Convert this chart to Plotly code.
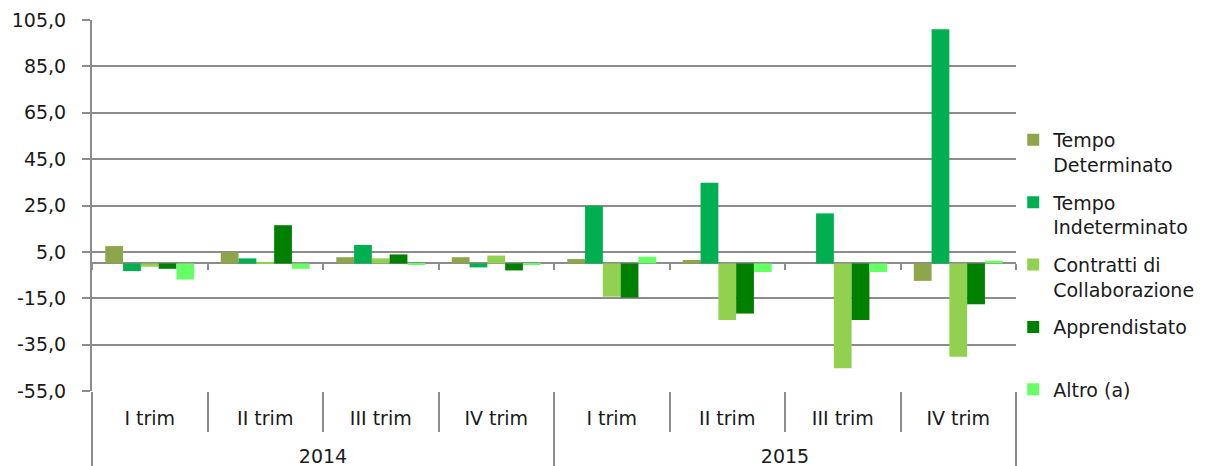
import plotly.graph_objects as go

years = ["2014"] * 4 + ["2015"] * 4
trims = ["I trim", "II trim", "III trim", "IV trim"] * 2

series_names = [
    "Tempo<br>Determinato",
    "Tempo<br>Indeterminato",
    "Contratti di<br>Collaborazione",
    "Apprendistato<br> ",
    "Altro (a)<br> ",
]
tempo_determinato = [7.5, 4.9, 2.7, 2.7, 1.9, 1.5, 0.0, -7.5]
tempo_indeterminato = [-3.3, 2.2, 8.0, -1.7, 24.9, 34.8, 21.6, 101.0]
contratti_collab = [-1.4, 0.7, 2.2, 3.4, -14.3, -24.4, -45.2, -40.2]
apprendistato = [-2.3, 16.5, 3.9, -3.0, -14.7, -21.6, -24.4, -17.6]
altro = [-6.9, -2.3, -0.4, -0.5, 2.9, -3.7, -3.7, 1.2]

series_values = [tempo_determinato, tempo_indeterminato, contratti_collab,
                 apprendistato, altro]
colors = ["#8DA64B", "#00B050", "#92D050", "#008000", "#66FF66"]

y_min, y_max, y_step = -55, 105, 20
y_ticks = list(range(y_min, y_max + 1, y_step))
y_ticktext = [f"{v:.1f}".replace(".", ",") for v in y_ticks]

FONT = "DejaVu Sans"
GRID = "#8c8c8c"
TXT = "#1a1a1a"

# inner labels get an empty second line to push the year row down
trim_labels = [t + "<br><span style='font-size:30px'>\u00a0</span>" for t in trims]

fig = go.Figure()
for name, vals, col in zip(series_names, series_values, colors):
    fig.add_trace(go.Bar(
        x=[years, trim_labels], y=vals, name=name, marker_color=col,
        marker_line_width=0, legendgroup=name,
    ))

n_cat = len(trims)
bounds = [i - 0.5 for i in range(n_cat + 1)]
inner_bounds = bounds[1:-1]

fig.add_trace(go.Scatter(x=bounds, y=[None] * len(bounds), xaxis="x2",
                         showlegend=False, hoverinfo="skip", mode="markers"))
fig.add_trace(go.Scatter(x=bounds, y=[None] * len(bounds), xaxis="x3",
                         showlegend=False, hoverinfo="skip", mode="markers"))

zero_pos = (0 - y_min) / (y_max - y_min)

# the page body adds an 8px offset, so the figure is 8px smaller
fig.update_layout(
    width=1205, height=458,
    margin=dict(l=84, r=197, t=12, b=75, autoexpand=False),
    paper_bgcolor="white", plot_bgcolor="white",
    barmode="group", bargap=0.23, bargroupgap=0,
    font=dict(family=FONT, size=17, color=TXT),
    showlegend=True,
    legend=dict(
        x=0.997, xanchor="left", y=0.728, yanchor="top",
        font=dict(family=FONT, size=19, color=TXT),
        valign="top", tracegroupgap=10, itemwidth=30,
        bgcolor="rgba(0,0,0,0)",
    ),
    xaxis=dict(
        type="multicategory", showgrid=False, zeroline=False,
        showline=False, ticks="", showdividers=True,
        dividercolor=GRID, dividerwidth=2, automargin=False,
        ticklabelstandoff=14,
        tickfont=dict(family=FONT, size=19, color=TXT),
        range=[bounds[0], bounds[-1]],
    ),
    xaxis2=dict(
        overlaying="x", anchor="y", side="bottom",
        range=[bounds[0], bounds[-1]], tickmode="array",
        tickvals=inner_bounds, ticks="outside", ticklen=40,
        tickwidth=2, tickcolor=GRID, showticklabels=False,
        showgrid=False, zeroline=False, showline=False, automargin=False,
    ),
    xaxis3=dict(
        overlaying="x", anchor="free", position=zero_pos, side="bottom",
        range=[bounds[0], bounds[-1]], tickmode="array",
        tickvals=bounds, ticks="outside", ticklen=6,
        tickwidth=2, tickcolor=GRID, showticklabels=False,
        showgrid=False, zeroline=False, showline=False, automargin=False,
    ),
    yaxis=dict(
        range=[y_min, y_max], tickmode="array", tickvals=y_ticks,
        ticktext=y_ticktext, automargin=False, ticklabelstandoff=12,
        showgrid=True, gridcolor=GRID, gridwidth=2,
        zeroline=True, zerolinecolor=GRID, zerolinewidth=2,
        showline=True, linecolor=GRID, linewidth=2,
        ticks="outside", ticklen=8, tickwidth=2, tickcolor=GRID,
        tickfont=dict(family=FONT, size=19, color=TXT),
    ),
)

fig.write_html("out.html")
